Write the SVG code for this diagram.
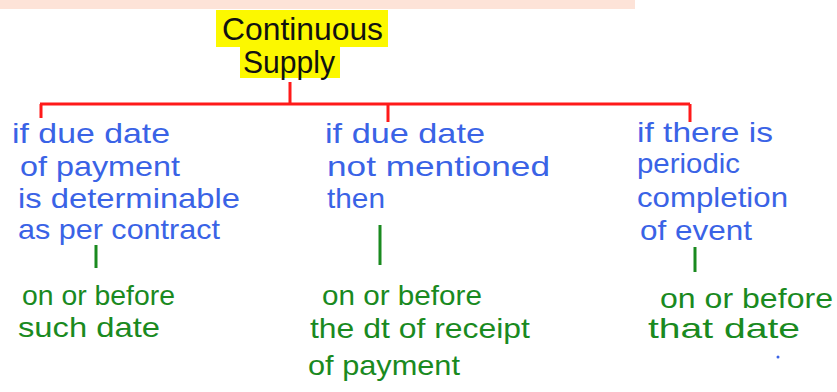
<svg xmlns="http://www.w3.org/2000/svg" width="837" height="392" viewBox="0 0 837 392">
<style>
.root{font-family:"Liberation Sans",Arial,sans-serif;font-size:31px;fill:#111}
.cond{font-family:"Liberation Sans",Arial,sans-serif;font-size:28px;fill:#3a63e6}
.out{font-family:"Liberation Sans",Arial,sans-serif;font-size:28px;fill:#1a8a1f}
.red{stroke:#ff1a1a;stroke-width:3;fill:none}
.grn{stroke:#1a8a1f;stroke-width:3;fill:none}
</style>
<rect width="837" height="392" fill="#ffffff"/>
<rect x="0" y="0" width="635" height="9" fill="#fde3d8"/>
<g id="root">
<path d="M216 10H388V47H340V78H240V47H216Z" fill="#fcf800"/>
<text class="root" x="222" y="40" textLength="161" lengthAdjust="spacingAndGlyphs">Continuous</text>
<text class="root" x="243" y="73" textLength="92" lengthAdjust="spacingAndGlyphs">Supply</text>
</g>
<g id="connectors">
<path class="red" d="M290 82V104M40 104H690M41 104V118M388 104V122M690 104V122"/>
<path class="grn" d="M96 245V268M380 225V265M695 247V272"/>
</g>
<g id="cond1">
<text class="cond" x="12" y="143" textLength="158" lengthAdjust="spacingAndGlyphs">if due date</text>
<text class="cond" x="20" y="176" textLength="160" lengthAdjust="spacingAndGlyphs">of payment</text>
<text class="cond" x="18" y="208" textLength="222" lengthAdjust="spacingAndGlyphs">is determinable</text>
<text class="cond" x="18" y="239" textLength="202" lengthAdjust="spacingAndGlyphs">as per contract</text>
</g>
<g id="cond2">
<text class="cond" x="325" y="143" textLength="160" lengthAdjust="spacingAndGlyphs">if due date</text>
<text class="cond" x="327" y="176" textLength="223" lengthAdjust="spacingAndGlyphs">not mentioned</text>
<text class="cond" x="327" y="208" textLength="58" lengthAdjust="spacingAndGlyphs">then</text>
</g>
<g id="cond3">
<text class="cond" x="637" y="142" textLength="136" lengthAdjust="spacingAndGlyphs">if there is</text>
<text class="cond" x="637" y="173" textLength="103" lengthAdjust="spacingAndGlyphs">periodic</text>
<text class="cond" x="637" y="207" textLength="151" lengthAdjust="spacingAndGlyphs">completion</text>
<text class="cond" x="640" y="240" textLength="112" lengthAdjust="spacingAndGlyphs">of event</text>
</g>
<g id="out1">
<text class="out" x="22" y="305" textLength="153" lengthAdjust="spacingAndGlyphs">on or before</text>
<text class="out" x="18" y="337" textLength="142" lengthAdjust="spacingAndGlyphs">such date</text>
</g>
<g id="out2">
<text class="out" x="322" y="305" textLength="160" lengthAdjust="spacingAndGlyphs">on or before</text>
<text class="out" x="310" y="338" textLength="220" lengthAdjust="spacingAndGlyphs">the dt of receipt</text>
<text class="out" x="308" y="375" textLength="152" lengthAdjust="spacingAndGlyphs">of payment</text>
</g>
<g id="out3">
<text class="out" x="660" y="308" textLength="173" lengthAdjust="spacingAndGlyphs">on or before</text>
<text class="out" x="648" y="338" textLength="152" lengthAdjust="spacingAndGlyphs">that date</text>
</g>
<circle cx="778" cy="357" r="1.5" fill="#3a63e6"/>
</svg>
